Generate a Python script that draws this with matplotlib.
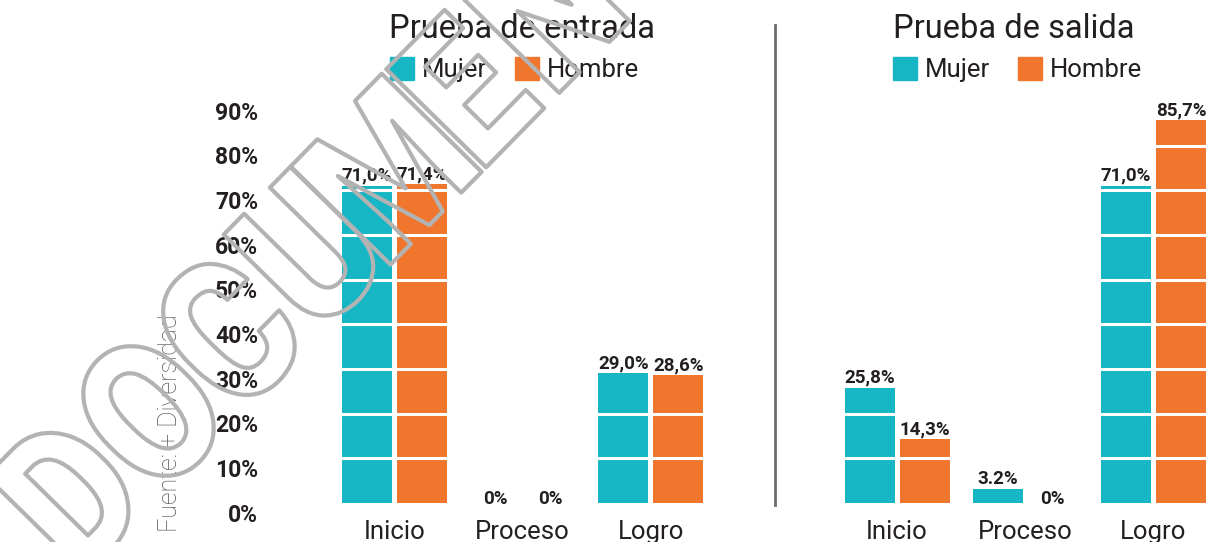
import matplotlib
matplotlib.use("Agg")
import matplotlib.pyplot as plt
from matplotlib.patches import Rectangle, PathPatch
from matplotlib.lines import Line2D
from matplotlib.textpath import TextPath
from matplotlib.font_manager import FontProperties
from matplotlib.transforms import Affine2D, ScaledTranslation
import numpy as np

# ---- data ----
categories = ["Inicio", "Proceso", "Logro"]
entrada_mujer = [71.0, 0.0, 29.0]
entrada_hombre = [71.4, 0.0, 28.6]
entrada_mujer_lbl = ["71,0%", "0%", "29,0%"]
entrada_hombre_lbl = ["71,4%", "0%", "28,6%"]
salida_mujer = [25.8, 3.2, 71.0]
salida_hombre = [14.3, 0.0, 85.7]
salida_mujer_lbl = ["25,8%", "3.2%", "71,0%"]
salida_hombre_lbl = ["14,3%", "0%", "85,7%"]
yticks = [0, 10, 20, 30, 40, 50, 60, 70, 80, 90]
ytick_labels = ["0%", "10%", "20%", "30%", "40%", "50%", "60%", "70%", "80%", "90%"]
series_names = ["Mujer", "Hombre"]
titles = ["Prueba de entrada", "Prueba de salida"]
source = "Fuente: + Diversidad"
watermark = "DOCUMENTO"

TEAL = "#16b6c4"
ORANGE = "#f0762d"
TXT = "#231f20"
FONT = "Roboto"

W, H = 1211, 542
fig = plt.figure(figsize=(W / 100, H / 100), dpi=100)
fig.patch.set_facecolor("white")


def px(x, y, w=0, h=0):
    return [x / W, 1 - (y + h) / H, w / W, h / H]


def draw_panel(ax, mujer, hombre, mlbl, hlbl):
    x = np.arange(len(categories))
    bw = 0.39
    off = 0.215
    ax.bar(x - off, mujer, bw, color=TEAL, zorder=2)
    ax.bar(x + off, hombre, bw, color=ORANGE, zorder=2)
    for t in yticks[1:]:
        ax.axhline(t, color="white", lw=2.2, zorder=3)
    ax.set_ylim(0, 90)
    for xs, vals, lbls in ((x - off, mujer, mlbl), (x + off, hombre, hlbl)):
        for xi, v, l in zip(xs, vals, lbls):
            dy = 5 if v > 0 else -1
            tr = ax.transData + ScaledTranslation(0, dy / 100, fig.dpi_scale_trans)
            ax.text(xi, v, l, ha="center", va="baseline", fontsize=13.5,
                    fontweight="bold", color=TXT, family=FONT, transform=tr,
                    zorder=4, clip_on=False)
    for xi, c in zip(x, categories):
        tr = ax.transData + ScaledTranslation(0, -36 / 100, fig.dpi_scale_trans)
        ax.text(xi, 0, c, ha="center", va="baseline", fontsize=18.5, color=TXT,
                family=FONT, transform=tr, clip_on=False)
    ax.set_xticks([])
    ax.set_yticks([])
    for s in ax.spines.values():
        s.set_visible(False)
    ax.patch.set_alpha(0)


axL = fig.add_axes(px(330, 101, 385, 402))
axL.set_xlim(-0.5, 2.5)
draw_panel(axL, entrada_mujer, entrada_hombre, entrada_mujer_lbl, entrada_hombre_lbl)
trY = axL.get_yaxis_transform() + ScaledTranslation(0, -12 / 100, fig.dpi_scale_trans)
for t, l in zip(yticks, ytick_labels):
    axL.text(-72 / 385, t, l, ha="right", va="center", fontsize=16.5,
             fontweight="bold", color=TXT, family=FONT, transform=trY, clip_on=False)

axR = fig.add_axes(px(833, 101, 378, 402))
axR.set_xlim(-0.5, 2.45)
draw_panel(axR, salida_mujer, salida_hombre, salida_mujer_lbl, salida_hombre_lbl)

# titles and legends
for cx, title, sqx in ((522, titles[0], 390), (1014, titles[1], 893)):
    fig.text(cx / W, 1 - 38 / H, title, ha="center", va="baseline", fontsize=23.5,
             color=TXT, family=FONT)
    for i, (name, col) in enumerate(zip(series_names, [TEAL, ORANGE])):
        x0 = sqx + i * 125
        fig.add_artist(Rectangle((x0 / W, 1 - 80 / H), 24 / W, 23 / H,
                                 transform=fig.transFigure, color=col))
        fig.text((x0 + 32) / W, 1 - 77 / H, name, ha="left", va="baseline",
                 fontsize=18.5, color=TXT, family=FONT)

# separator
fig.add_artist(Line2D([775 / W, 775 / W], [1 - 505 / H, 1 - 25 / H],
                      transform=fig.transFigure, color="#6d6d6d", lw=2))

# source
fig.text(170 / W, 1 - 532 / H, source, rotation=90, ha="center", va="bottom",
         fontsize=18, color="#555555", family=FONT, fontweight="light")

# watermark outline, one glyph at a time along a 45.5 degree line
ang = np.deg2rad(45.5)
u_img = np.array([np.cos(ang), -np.sin(ang)])
v_img = np.array([-np.sin(ang), -np.cos(ang)])
wm_prop = FontProperties(family="Roboto", weight="black")
for k, ch in enumerate(watermark):
    a = -302 + 113 * k
    bx, by = a * u_img + (-464) * v_img
    tp = TextPath((0, 0), ch, size=197, prop=wm_prop)
    ext = tp.get_extents()
    cx = 0.5 * (ext.x0 + ext.x1)
    tr = (Affine2D().translate(-cx, 0).scale(0.86, 1.0)
          .rotate_deg(45.5).translate(bx, H - by))
    fig.add_artist(PathPatch(tp, transform=tr, facecolor="none",
                             edgecolor="#b3b3b3", lw=3, joinstyle="round",
                             zorder=10))

fig.savefig("out.png", dpi=100, facecolor="white")
